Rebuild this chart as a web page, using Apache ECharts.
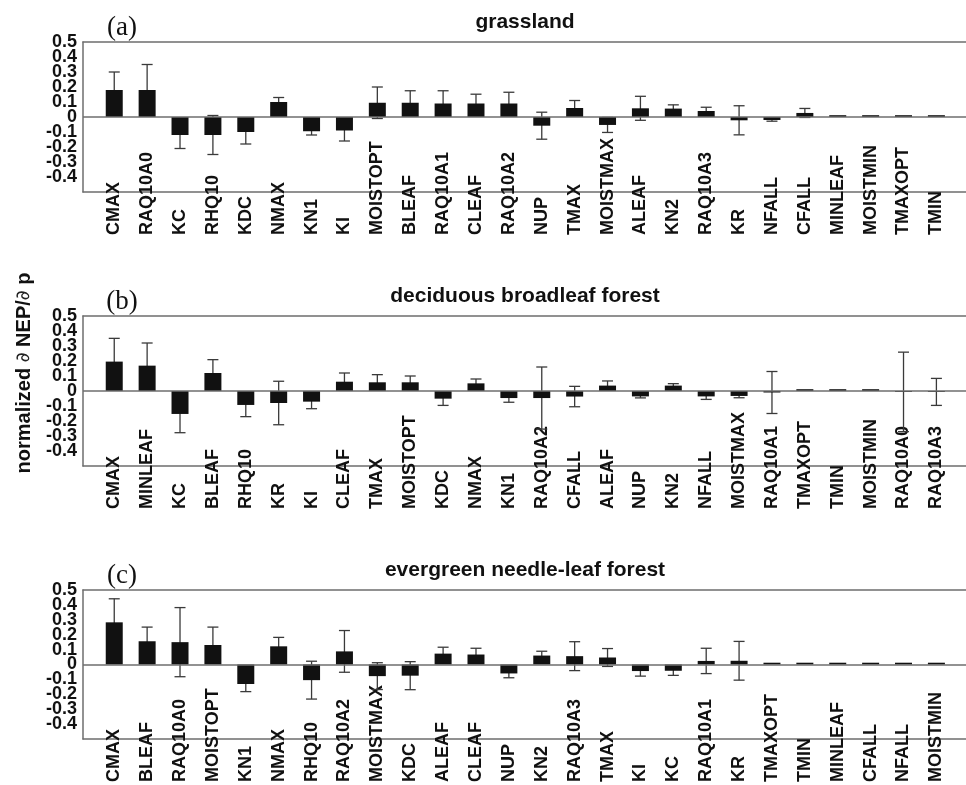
<!DOCTYPE html>
<html><head><meta charset="utf-8">
<script src="https://cdn.jsdelivr.net/npm/echarts@6/dist/echarts.min.js"></script>
<style>html,body{margin:0;padding:0;background:#fff}#c{width:966px;height:785px}</style>
</head><body><div id="c"></div>
<script>
// Panel (a) grassland
const catsA = ['CMAX','RAQ10A0','KC','RHQ10','KDC','NMAX','KN1','KI','MOISTOPT','BLEAF','RAQ10A1','CLEAF','RAQ10A2','NUP','TMAX','MOISTMAX','ALEAF','KN2','RAQ10A3','KR','NFALL','CFALL','MINLEAF','MOISTMIN','TMAXOPT','TMIN'];
const valsA = [0.18,0.18,-0.12,-0.12,-0.10,0.10,-0.095,-0.09,0.095,0.095,0.09,0.09,0.09,-0.058,0.06,-0.053,0.058,0.056,0.04,-0.022,-0.02,0.027,0.012,0.012,0.012,0.012];
const errsA = [0.12,0.17,0.09,0.13,0.08,0.03,0.025,0.07,0.105,0.08,0.085,0.062,0.075,0.09,0.05,0.05,0.08,0.025,0.025,0.097,0.008,0.03,0,0,0,0];
// Panel (b) deciduous broadleaf forest
const catsB = ['CMAX','MINLEAF','KC','BLEAF','RHQ10','KR','KI','CLEAF','TMAX','MOISTOPT','KDC','NMAX','KN1','RAQ10A2','CFALL','ALEAF','NUP','KN2','NFALL','MOISTMAX','RAQ10A1','TMAXOPT','TMIN','MOISTMIN','RAQ10A0','RAQ10A3'];
const valsB = [0.196,0.169,-0.153,0.12,-0.093,-0.08,-0.071,0.062,0.058,0.058,-0.051,0.051,-0.047,-0.047,-0.037,0.036,-0.036,0.036,-0.036,-0.033,-0.01,0.012,0.012,0.012,-0.006,-0.006];
const errsB = [0.155,0.151,0.125,0.089,0.078,0.145,0.047,0.058,0.051,0.042,0.045,0.029,0.028,0.207,0.068,0.031,0.01,0.013,0.02,0.012,0.14,0,0,0,0.265,0.09];
// Panel (c) evergreen needle-leaf forest
const catsC = ['CMAX','BLEAF','RAQ10A0','MOISTOPT','KN1','NMAX','RHQ10','RAQ10A2','MOISTMAX','KDC','ALEAF','CLEAF','NUP','KN2','RAQ10A3','TMAX','KI','KC','RAQ10A1','KR','TMAXOPT','TMIN','MINLEAF','CFALL','NFALL','MOISTMIN'];
const valsC = [0.283,0.156,0.15,0.131,-0.131,0.122,-0.105,0.088,-0.078,-0.075,0.073,0.067,-0.06,0.06,0.056,0.047,-0.044,-0.042,0.024,0.025,0.012,0.012,0.012,0.012,0.012,0.012];
const errsC = [0.158,0.095,0.232,0.12,0.051,0.06,0.127,0.14,0.09,0.094,0.043,0.042,0.029,0.029,0.097,0.06,0.034,0.031,0.085,0.13,0,0,0,0,0,0];

const titles = ['grassland','deciduous broadleaf forest','evergreen needle-leaf forest'];
const letters = ['(a)','(b)','(c)'];
const yTickVals = [0.5,0.4,0.3,0.2,0.1,0,-0.1,-0.2,-0.3,-0.4];

const panels = [[catsA,valsA,errsA],[catsB,valsB,errsB],[catsC,valsC,errsC]];
const tops = [42,316,590];
const H = 150;
const SANS = 'Liberation Sans, Arial, sans-serif';

const grid=[], xAxis=[], yAxis=[], series=[], graphic=[];
const yLabelStyle = {margin:6,hideOverlap:false,showMaxLabel:true,showMinLabel:true,
  formatter:v=>String(Math.round(v*10)/10),
  fontFamily:SANS,fontWeight:'bold',fontSize:18,color:'#111'};
panels.forEach(([cats,vals,errs],p)=>{
  grid.push({left:83,right:0,top:tops[p],height:H});
  xAxis.push({type:'value',gridIndex:p,min:-0.95,max:25.9,position:'bottom',
    axisLine:{show:true,onZero:false,lineStyle:{color:'#6e6e6e',width:1.5}},
    axisTick:{show:false},splitLine:{show:false},
    axisLabel:{customValues:cats.map((c,i)=>i),formatter:v=>cats[Math.round(v)],
      rotate:90,align:'left',verticalAlign:'middle',margin:43,hideOverlap:false,
      fontFamily:SANS,fontWeight:'bold',fontSize:18,color:'#111'}});
  xAxis.push({type:'value',gridIndex:p,min:-0.95,max:25.9,position:'top',
    axisLine:{show:true,onZero:false,lineStyle:{color:'#6e6e6e',width:1.5}},
    axisTick:{show:false},axisLabel:{show:false},splitLine:{show:false}});
  // two overlaid left axes so the tightly packed tick labels are never auto-hidden
  yAxis.push({type:'value',gridIndex:p,min:-0.5,max:0.5,position:'left',
    axisLine:{show:true,onZero:false,lineStyle:{color:'#6e6e6e',width:1.5}},
    axisTick:{show:false},splitLine:{show:false},
    axisLabel:Object.assign({customValues:yTickVals.filter((v,i)=>i%2===0)},yLabelStyle)});
  yAxis.push({type:'value',gridIndex:p,min:-0.5,max:0.5,position:'left',offset:0,
    axisLine:{show:false,onZero:false},
    axisTick:{show:false},splitLine:{show:false},
    axisLabel:Object.assign({customValues:yTickVals.filter((v,i)=>i%2===1)},yLabelStyle)});
  const errData = vals.map((v,i)=>[i,v-errs[i],v+errs[i],errs[i]]);
  series.push({type:'custom',xAxisIndex:2*p,yAxisIndex:2*p,z:2,silent:true,
    data:errData,
    renderItem:(params,api)=>{
      if(api.value(3)<=0) return null;
      const lo=api.coord([api.value(0),api.value(1)]);
      const hi=api.coord([api.value(0),api.value(2)]);
      const w=5.5, st={stroke:'#3a3a3a',lineWidth:1.3};
      return {type:'group',children:[
        {type:'line',shape:{x1:hi[0],y1:hi[1],x2:lo[0],y2:lo[1]},style:st},
        {type:'line',shape:{x1:hi[0]-w,y1:hi[1],x2:hi[0]+w,y2:hi[1]},style:st},
        {type:'line',shape:{x1:lo[0]-w,y1:lo[1],x2:lo[0]+w,y2:lo[1]},style:st}]};
    }});
  series.push({type:'bar',xAxisIndex:2*p,yAxisIndex:2*p,z:3,barWidth:17,silent:true,
    data:vals.map((v,i)=>[i,v]),itemStyle:{color:'#111'},
    markLine:{silent:true,symbol:'none',label:{show:false},
      lineStyle:{color:'#6e6e6e',width:1.5,type:'solid'},data:[{yAxis:0}]}});
  graphic.push({type:'text',x:525,y:tops[p]-20,z:10,
    style:{text:titles[p],fontFamily:SANS,fontWeight:'bold',fontSize:21,fill:'#111',
      textAlign:'center',textVerticalAlign:'middle'}});
  graphic.push({type:'text',x:122,y:tops[p]-14,z:10,
    style:{text:letters[p],fontFamily:'Liberation Serif, Times New Roman, serif',fontSize:27,fill:'#111',
      textAlign:'center',textVerticalAlign:'middle'}});
});
graphic.push({type:'text',x:24,y:373,rotation:Math.PI/2,z:10,
  style:{text:'{b|normalized }{d|∂}{b| NEP/}{d|∂}{b| p}',textAlign:'center',textVerticalAlign:'middle',
    rich:{b:{fontFamily:SANS,fontWeight:'bold',fontSize:20,fill:'#111'},
          d:{fontFamily:'DejaVu Sans, sans-serif',fontStyle:'italic',fontSize:19,fill:'#222'}}}});

const chart = echarts.init(document.getElementById('c'),null,{renderer:'canvas'});
chart.setOption({animation:false,backgroundColor:'#fff',grid,xAxis,yAxis,series,graphic});
</script></body></html>
